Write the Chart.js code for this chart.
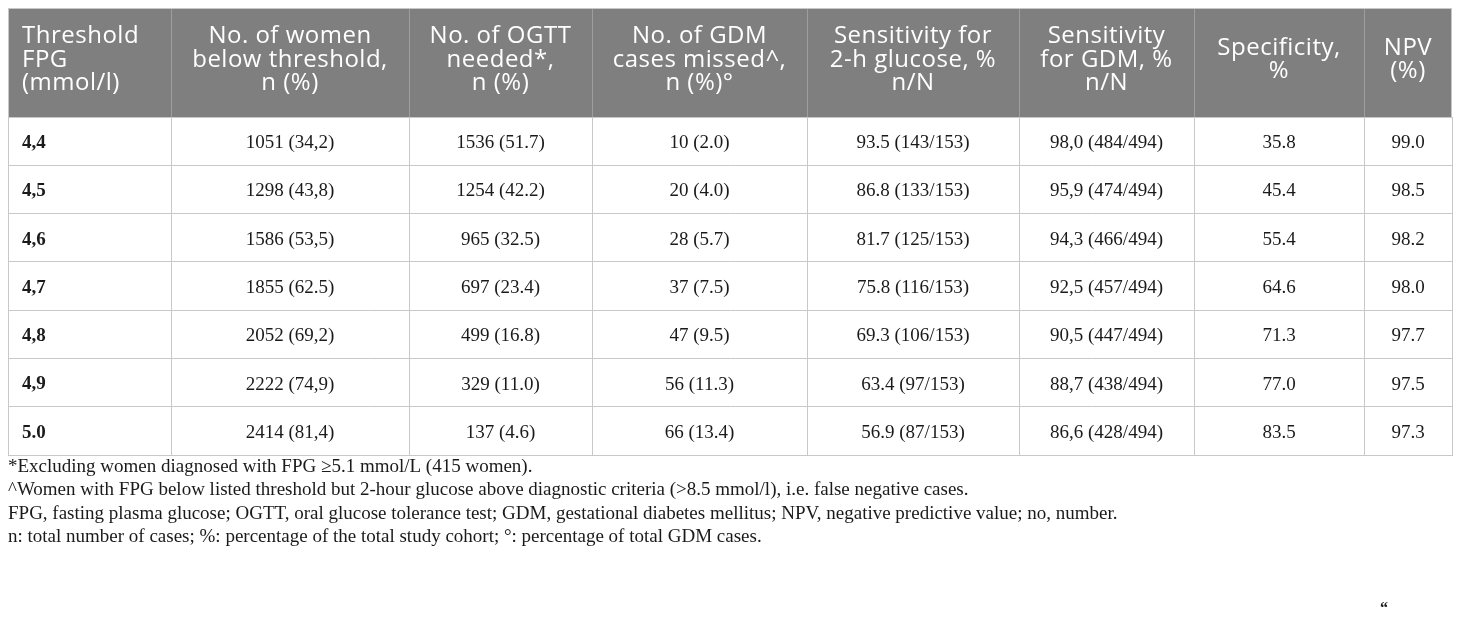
<!DOCTYPE html>
<html lang="en">
<head>
    <meta charset="UTF-8">
    <title>FPG thresholds and OGTT need</title>
    <script src="https://cdn.jsdelivr.net/npm/chart.js"></script>
    <style>
        html, body {
            margin: 0;
            padding: 0;
            background: #ffffff;
        }

        .chart-container {
            width: 1460px;
            height: 620px;
        }
    </style>
</head>
<body>

    <div class="chart-container">
        <canvas id="fpgTable"></canvas>
    </div>

    <script>
        // table values, one array per column
        const thresholds = ["4,4", "4,5", "4,6", "4,7", "4,8", "4,9", "5.0"];
        const womenBelow = ["1051 (34,2)", "1298 (43,8)", "1586 (53,5)", "1855 (62.5)", "2052 (69,2)", "2222 (74,9)", "2414 (81,4)"];
        const ogttNeeded = ["1536 (51.7)", "1254 (42.2)", "965 (32.5)", "697 (23.4)", "499 (16.8)", "329 (11.0)", "137 (4.6)"];
        const gdmMissed = ["10 (2.0)", "20 (4.0)", "28 (5.7)", "37 (7.5)", "47 (9.5)", "56 (11.3)", "66 (13.4)"];
        const sens2h = ["93.5 (143/153)", "86.8 (133/153)", "81.7 (125/153)", "75.8 (116/153)", "69.3 (106/153)", "63.4 (97/153)", "56.9 (87/153)"];
        const sensGdm = ["98,0 (484/494)", "95,9 (474/494)", "94,3 (466/494)", "92,5 (457/494)", "90,5 (447/494)", "88,7 (438/494)", "86,6 (428/494)"];
        const specificity = [35.8, 45.4, 55.4, 64.6, 71.3, 77.0, 83.5];
        const npv = [99.0, 98.5, 98.2, 98.0, 97.7, 97.5, 97.3];

        const columnHeaders = [
            ["Threshold", "FPG", "(mmol/l)"],
            ["No. of women", "below threshold,", "n (%)"],
            ["No. of OGTT", "needed*,", "n (%)"],
            ["No. of GDM", "cases missed^,", "n (%)°"],
            ["Sensitivity for", "2-h glucose, %", "n/N"],
            ["Sensitivity", "for GDM, %", "n/N"],
            ["Specificity,", "%"],
            ["NPV", "(%)"]
        ];

        const footnotes = [
            "*Excluding women diagnosed with FPG \u22655.1 mmol/L (415 women).",
            "^Women with FPG below listed threshold but 2-hour glucose above diagnostic criteria (>8.5 mmol/l), i.e. false negative cases.",
            "FPG, fasting plasma glucose; OGTT, oral glucose tolerance test; GDM, gestational diabetes mellitus; NPV, negative predictive value; no, number.",
            "n: total number of cases; %: percentage of the total study cohort; \u00b0: percentage of total GDM cases."
        ];

        // layout (not data): column edges in table units, table spans 0..1444
        const colEdges = [0, 163, 401, 584, 799, 1011, 1186, 1356, 1444];
        const tableTop = 8;
        const gridColor = "#c8c8c8";

        const columns = [
            thresholds, womenBelow, ogttNeeded, gdmMissed, sens2h, sensGdm,
            specificity.map(v => v.toFixed(1)),
            npv.map(v => v.toFixed(1))
        ];

        const tablePlugin = {
            id: "tableCells",
            afterDraw(chart) {
                const ctx = chart.ctx;
                const x = chart.scales.x;
                const y = chart.scales.y;
                const area = chart.chartArea;
                const left = x.getPixelForValue(colEdges[0]);
                const right = x.getPixelForValue(colEdges[colEdges.length - 1]);

                ctx.save();

                // header band
                ctx.fillStyle = "#7f7f7f";
                ctx.fillRect(left, tableTop, right - left, area.top - tableTop);
                ctx.strokeStyle = "#9e9e9e";
                ctx.lineWidth = 1;
                colEdges.slice(1, -1).forEach(edge => {
                    const px = Math.round(x.getPixelForValue(edge)) + 0.5;
                    ctx.beginPath();
                    ctx.moveTo(px, tableTop);
                    ctx.lineTo(px, area.top);
                    ctx.stroke();
                });
                ctx.strokeStyle = gridColor;
                ctx.strokeRect(left + 0.5, tableTop + 0.5, right - left - 1, area.top - tableTop);

                // header text
                ctx.fillStyle = "#ffffff";
                ctx.font = '24px "Open Sans"';
                ctx.letterSpacing = "0.5px";
                ctx.textBaseline = "alphabetic";
                columnHeaders.forEach((lines, i) => {
                    const mid = (colEdges[i] + colEdges[i + 1]) / 2;
                    lines.forEach((line, k) => {
                        const baseY = 66.5 + (k - (lines.length - 1) / 2) * 23.75;
                        if (i === 0) {
                            ctx.textAlign = "left";
                            ctx.fillText(line, x.getPixelForValue(colEdges[0]) + 14, baseY);
                        } else {
                            ctx.textAlign = "center";
                            ctx.fillText(line, x.getPixelForValue(mid), baseY);
                        }
                    });
                });
                ctx.letterSpacing = "0px";

                // body cells
                ctx.fillStyle = "#1a1a1a";
                ctx.textBaseline = "middle";
                columns.forEach((values, i) => {
                    const mid = (colEdges[i] + colEdges[i + 1]) / 2;
                    values.forEach((val, r) => {
                        const py = y.getPixelForValue(r) + 2;
                        if (i === 0) {
                            ctx.font = 'bold 19px "Liberation Serif"';
                            ctx.textAlign = "left";
                            ctx.fillText(val, x.getPixelForValue(colEdges[0]) + 14, py);
                        } else {
                            ctx.font = '19px "Liberation Serif"';
                            ctx.textAlign = "center";
                            ctx.fillText(val, x.getPixelForValue(mid), py);
                        }
                    });
                });

                // footnotes
                ctx.font = '19px "Liberation Serif"';
                ctx.textAlign = "left";
                footnotes.forEach((note, k) => {
                    ctx.fillText(note, left, area.bottom + 12 + k * 23.5);
                });

                ctx.font = 'bold 16px "Liberation Serif"';
                ctx.fillText("\u201c", 1380, 609);

                ctx.restore();
            }
        };

        const ctx = document.getElementById("fpgTable").getContext("2d");

        new Chart(ctx, {
            type: "scatter",
            data: {
                labels: thresholds,
                datasets: []
            },
            options: {
                responsive: true,
                maintainAspectRatio: false,
                animation: false,
                layout: {
                    padding: { left: 8, right: 8, top: 117, bottom: 165 }
                },
                plugins: {
                    legend: { display: false },
                    tooltip: { enabled: false }
                },
                scales: {
                    x: {
                        type: "linear",
                        min: colEdges[0],
                        max: colEdges[colEdges.length - 1],
                        afterBuildTicks: axis => {
                            axis.ticks = colEdges.map(v => ({ value: v }));
                        },
                        ticks: { display: false },
                        grid: { color: gridColor, drawTicks: false },
                        border: { display: true, color: gridColor }
                    },
                    y: {
                        type: "category",
                        labels: thresholds,
                        offset: true,
                        ticks: { display: false },
                        grid: { offset: true, color: gridColor, drawTicks: false },
                        border: { display: true, color: gridColor }
                    }
                }
            },
            plugins: [tablePlugin]
        });
    </script>

</body>
</html>
